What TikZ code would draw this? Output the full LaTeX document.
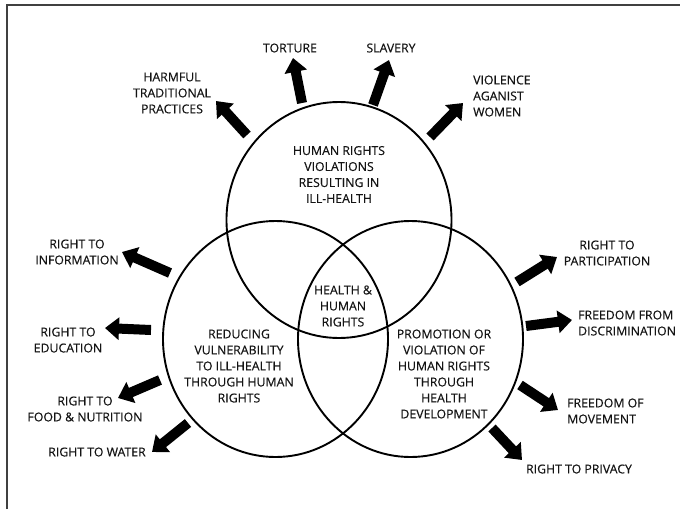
\documentclass[tikz,border=0pt]{standalone}
\usepackage{fontspec}
\setmainfont{Open Sans}[FakeBold=0.3]
\usetikzlibrary{arrows.meta,shapes.geometric}
\definecolor{ink}{HTML}{141414}
\tikzset{
  vennc/.style={ellipse, draw=black, line width=1.9pt, inner sep=0pt, minimum width=225pt, minimum height=236pt},
  lbl/.style={text=ink, align=center, inner sep=0pt, font=\fontsize{12.3}{16}\selectfont},
  lblw/.style={lbl, align=left, anchor=west},
  bigarrow/.style={draw=black, line width=10pt, -{Triangle[width=22pt,length=14pt]}},
  frameline/.style={draw=black!75, line width=1.4pt}
}
\begin{document}
\begin{tikzpicture}[x=1pt,y=-1pt]
\useasboundingbox (0,0) rectangle (680,509);
\draw[frameline] (7,509) -- (7,5) -- (680,5);

% circles
\node[vennc] (ctop) at (339,220) {};
\node[vennc] (cleft) at (275.5,339) {};
\node[vennc] (cright) at (410.5,339) {};

% inner texts
\node[lbl] (ttop) at (339,174.5) {HUMAN RIGHTS\\VIOLATIONS\\RESULTING IN\\ILL-HEALTH};
\node[lbl] (tmid) at (343,306) {HEALTH \&\\HUMAN\\RIGHTS};
\node[lbl] (tleft) at (239,366) {REDUCING\\VULNERABILITY\\TO ILL-HEALTH\\THROUGH HUMAN\\RIGHTS};
\node[lbl] (tright) at (444,374) {PROMOTION OR\\VIOLATION OF\\HUMAN RIGHTS\\THROUGH\\HEALTH\\DEVELOPMENT};

% outer labels
\node[lbl] (lharm) at (172,93) {HARMFUL\\TRADITIONAL\\PRACTICES};
\node[lbl] (ltort) at (290,48) {TORTURE};
\node[lbl] (lslav) at (391,48) {SLAVERY};
\node[lblw] (lviol) at (473,96) {VIOLENCE\\AGANIST\\WOMEN};
\node[lbl] (linfo) at (77,252) {RIGHT TO\\INFORMATION};
\node[lbl] (ledu) at (68,340) {RIGHT TO\\EDUCATION};
\node[lbl] (lfood) at (85,409) {RIGHT TO\\FOOD \& NUTRITION};
\node[lbl] (lwater) at (97,452) {RIGHT TO WATER};
\node[lbl] (lpart) at (607,253) {RIGHT TO\\PARTICIPATION};
\node[lblw] (ldisc) at (578,323) {FREEDOM FROM\\DISCRIMINATION};
\node[lblw] (lmove) at (567,411) {FREEDOM OF\\MOVEMENT};
\node[lbl] (lpriv) at (579,469) {RIGHT TO PRIVACY};

% arrow ends
\coordinate (aHarm) at (247,135);  \coordinate (bHarm) at (216,101);
\coordinate (aTort) at (302,103);  \coordinate (bTort) at (293,58);
\coordinate (aSlav) at (373,105);  \coordinate (bSlav) at (389,60);
\coordinate (aViol) at (430,137);  \coordinate (bViol) at (463,103);
\coordinate (aInfo) at (170,273);  \coordinate (bInfo) at (122,252);
\coordinate (aEdu) at (151,330);   \coordinate (bEdu) at (105,328);
\coordinate (aFood) at (160,380);  \coordinate (bFood) at (118,398);
\coordinate (aWater) at (188,423); \coordinate (bWater) at (152,452);
\coordinate (aPart) at (517,282);  \coordinate (bPart) at (557,257);
\coordinate (aDisc) at (526,326);  \coordinate (bDisc) at (572,320);
\coordinate (aMove) at (520,385);  \coordinate (bMove) at (558,410);
\coordinate (aPriv) at (492,428);  \coordinate (bPriv) at (522,460);

\foreach \n in {Harm,Tort,Slav,Viol,Info,Edu,Food,Water,Part,Disc,Move,Priv}
  \draw[bigarrow] (a\n) -- (b\n);
\end{tikzpicture}
\end{document}
